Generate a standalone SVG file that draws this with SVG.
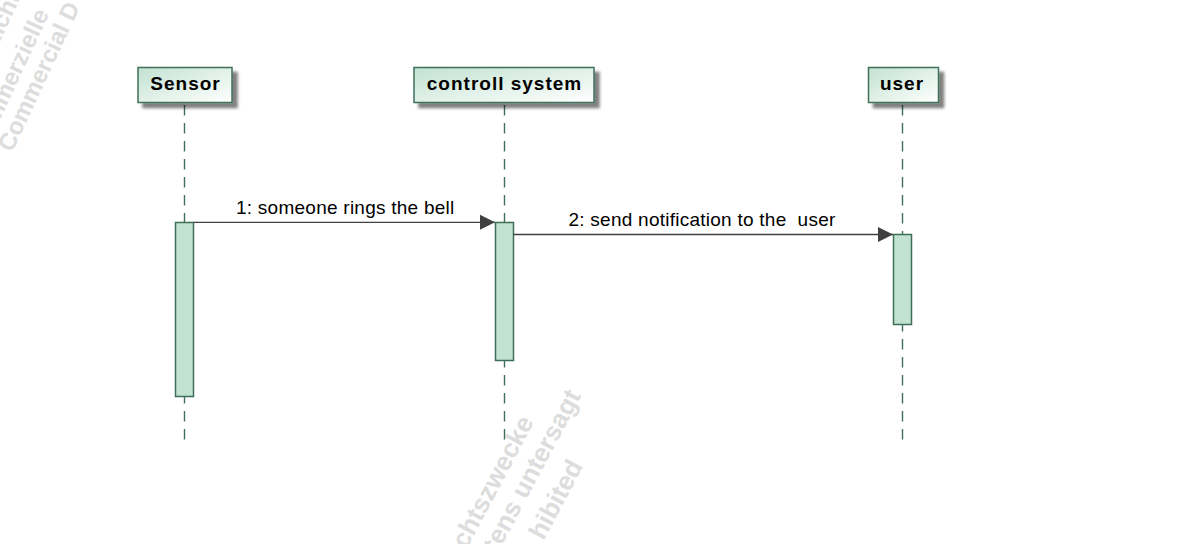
<svg xmlns="http://www.w3.org/2000/svg" width="1189" height="544" viewBox="0 0 1189 544">
<style>
.wm{font-family:"Liberation Sans",Arial,sans-serif;font-weight:bold;fill:#dddddd}
.wt{font-size:24px}
.wb{font-size:26px}
.pbox{fill:url(#pg);stroke:#3f6f59;stroke-width:1.5;filter:url(#sh)}
.ptxt{font-family:"Liberation Sans",Arial,sans-serif;font-weight:bold;font-size:19px;letter-spacing:1px;fill:#000;text-anchor:middle}
.life{stroke:#3f6f59;stroke-width:1.4;stroke-dasharray:10.5 7.5;fill:none}
.act{fill:#c2e2d2;stroke:#3f6f59;stroke-width:1.5}
.msg{stroke:#404040;stroke-width:1.3;fill:none;marker-end:url(#ah)}
.mtxt{font-family:"Liberation Sans",Arial,sans-serif;font-size:19px;letter-spacing:0.25px;fill:#000}
</style>
<defs>
<linearGradient id="pg" x1="0" y1="0" x2="1" y2="1">
<stop offset="0" stop-color="#c2e2d2"/>
<stop offset="1" stop-color="#ffffff"/>
</linearGradient>
<filter id="sh" x="-20%" y="-30%" width="150%" height="180%">
<feGaussianBlur in="SourceAlpha" stdDeviation="1.5"/>
<feOffset dx="5" dy="5" result="b"/>
<feComponentTransfer><feFuncA type="linear" slope="0.5"/></feComponentTransfer>
<feMerge><feMergeNode/><feMergeNode in="SourceGraphic"/></feMerge>
</filter>
<marker id="ah" markerWidth="15" markerHeight="16" refX="15" refY="8" orient="auto" markerUnits="userSpaceOnUse">
<path d="M0,0.5 L15,8 L0,15.5 Z" fill="#404040"/>
</marker>
</defs>
<rect width="1189" height="544" fill="#fff"/>
<g id="watermark">
<g transform="translate(12,153) rotate(-65)">
<text class="wm wt" x="0" y="0">Commercial D</text>
<text class="wm wt" x="-14" y="-25">Kommerzielle</text>
<text class="wm wt" x="85" y="-58">Nicht</text>
</g>
<g transform="translate(534.4,421.8) rotate(-62)">
<text class="wm wb" x="0" y="0" text-anchor="end">chtszwecke</text>
<text class="wm wb" x="45.4" y="29.4" text-anchor="end">tens untersagt</text>
<text class="wm wb" x="-15.7" y="64" text-anchor="end">hibited</text>
</g>
</g>
<g id="lifelines">
<line class="life" x1="184.5" y1="105" x2="184.5" y2="440"/>
<line class="life" x1="504.5" y1="105" x2="504.5" y2="440"/>
<line class="life" x1="902.5" y1="105" x2="902.5" y2="440"/>
</g>
<g id="sensor">
<rect class="pbox" x="138" y="67.5" width="94" height="35"/>
<text class="ptxt" x="185.5" y="90">Sensor</text>
</g>
<g id="controll-system">
<rect class="pbox" x="414" y="67.5" width="180" height="35"/>
<text class="ptxt" x="504.5" y="90">controll system</text>
</g>
<g id="user">
<rect class="pbox" x="868.5" y="67.5" width="70" height="35"/>
<text class="ptxt" x="902" y="90">user</text>
</g>
<g id="activations">
<rect class="act" x="175.5" y="222.5" width="18" height="174"/>
<rect class="act" x="495.5" y="222.5" width="18" height="138"/>
<rect class="act" x="893.5" y="234.5" width="18" height="90"/>
</g>
<g id="connectors">
<line class="msg" x1="193.5" y1="222.3" x2="495" y2="222.3"/>
<text class="mtxt" x="236" y="214">1: someone rings the bell</text>
<line class="msg" x1="513.5" y1="234.5" x2="893" y2="234.5"/>
<text class="mtxt" x="568.5" y="226" xml:space="preserve">2: send notification to the  user</text>
</g>
</svg>
